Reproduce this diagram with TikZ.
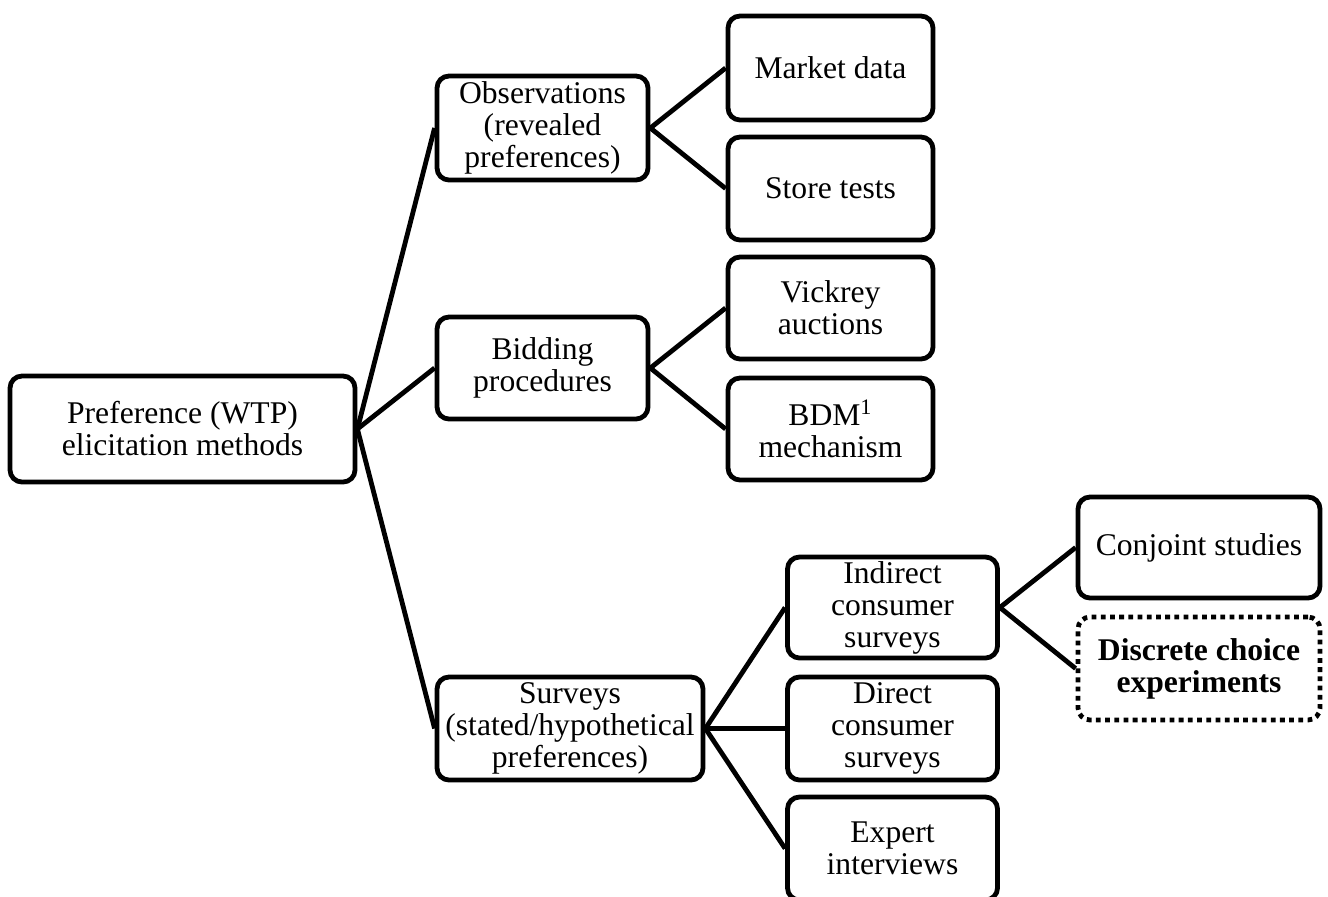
\documentclass[tikz,border=0pt]{standalone}
\usepackage{fontspec}
\setmainfont{Liberation Serif}

\begin{document}
\begin{tikzpicture}[x=0.5pt, y=-0.5pt,
  every node/.style={font=\fontsize{15.8}{16}\selectfont, align=center, inner sep=1pt},
  box/.style={draw, line width=2.4pt, rounded corners=6pt},
  dotbox/.style={box, dash pattern=on 2.4pt off 2.2pt, font=\fontsize{15.8}{16}\selectfont\bfseries},
  link/.style={line width=2.4pt}]
\useasboundingbox (0,0) rectangle (1328,896);
\node[box, minimum width=172.5pt, minimum height=53pt] (pref) at (182.5,429){Preference (WTP)\\elicitation methods};
\node[box, minimum width=105.5pt, minimum height=52pt] (obs) at (542.5,128){Observations\\(revealed\\preferences)};
\node[box, minimum width=105.5pt, minimum height=51pt] (bid) at (542.5,368){Bidding\\procedures};
\node[box, minimum width=133pt, minimum height=51.5pt] (surv) at (570,728.5){Surveys\\(stated/hypothetical\\preferences)};
\draw[link] (pref.east) -- (obs.west);
\draw[link] (pref.east) -- (bid.west);
\draw[link] (pref.east) -- (surv.west);
\node[box, minimum width=102.5pt, minimum height=52pt] (mkt) at (830.5,68){Market data};
\node[box, minimum width=102.5pt, minimum height=51.5pt] (store) at (830.5,188.5){Store tests};
\draw[link] (obs.east) -- (mkt.west);
\draw[link] (obs.east) -- (store.west);
\node[box, minimum width=102.5pt, minimum height=51pt] (vick) at (830.5,308){Vickrey\\auctions};
\node[box, minimum width=102.5pt, minimum height=51pt] (bdm) at (830.5,429){BDM\textsuperscript{1}\\mechanism};
\draw[link] (bid.east) -- (vick.west);
\draw[link] (bid.east) -- (bdm.west);
\node[box, minimum width=105pt, minimum height=50.5pt] (ind) at (892.5,607.5){Indirect\\consumer\\surveys};
\node[box, minimum width=105pt, minimum height=51.5pt] (dir) at (892.5,728.5){Direct\\consumer\\surveys};
\node[box, minimum width=105pt, minimum height=51.5pt] (expert) at (892.5,848.5){Expert\\interviews};
\draw[link] (surv.east) -- (ind.west);
\draw[link] (surv.east) -- (dir.west);
\draw[link] (surv.east) -- (expert.west);
\node[box, minimum width=121pt, minimum height=50.5pt] (conj) at (1199,547.5){Conjoint studies};
\node[dotbox, minimum width=121pt, minimum height=51.5pt] (dce) at (1199,668.5){Discrete choice\\experiments};
\draw[link] (ind.east) -- (conj.west);
\draw[link] (ind.east) -- (dce.west);

\end{tikzpicture}
\end{document}
